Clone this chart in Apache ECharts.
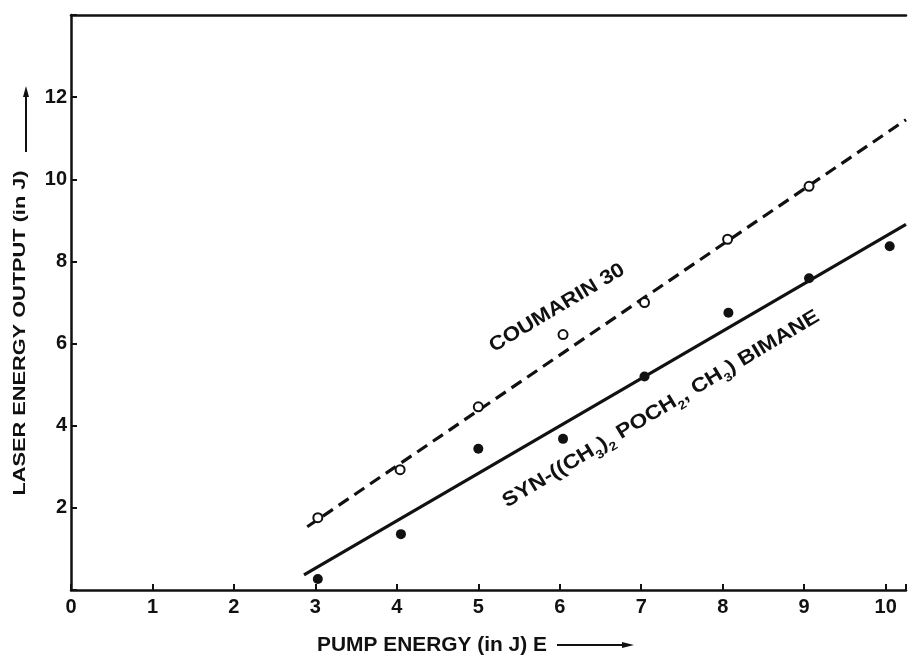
<!DOCTYPE html>
<html>
<head>
<meta charset="utf-8">
<script src="https://cdn.jsdelivr.net/npm/echarts@6/dist/echarts.min.js"></script>
<style>
  html, body { margin: 0; padding: 0; background: #fff; }
  #chart { width: 909px; height: 663px; }
</style>
</head>
<body>
<div id="chart"></div>
<script>
// measured points
var coumarinX = [3.03, 4.04, 5.0, 6.04, 7.04, 8.06, 9.06]
var coumarinY = [1.76, 2.93, 4.46, 6.22, 7.0, 8.54, 9.83]
var bimaneX = [3.03, 4.05, 5.0, 6.04, 7.04, 8.07, 9.06, 10.05]
var bimaneY = [0.27, 1.36, 3.44, 3.68, 5.2, 6.75, 7.59, 8.37]
// fitted lines (end points)
var coumarinFitX = [2.9, 10.25]
var coumarinFitY = [1.54, 11.45]
var bimaneFitX = [2.86, 10.25]
var bimaneFitY = [0.37, 8.9]

var xTicks = { min: 0, max: 10.25, step: 1 }
var yTicks = { min: 0, max: 14, step: 2 }

function pairs (xs, ys) {
  var out = []
  for (var i = 0; i < xs.length; i++) out.push([xs[i], ys[i]])
  return out
}

var FONT = '"Liberation Sans", Arial, Helvetica, sans-serif'
var INK = '#111'

var chart = echarts.init(document.getElementById('chart'))

var option = {
  backgroundColor: '#fff',
  animation: false,
  grid: { left: 71, right: 0, top: 15, bottom: 73 },
  xAxis: [{
    type: 'value',
    min: xTicks.min,
    max: xTicks.max,
    interval: xTicks.step,
    splitLine: { show: false },
    axisLine: { lineStyle: { color: INK, width: 2.5 } },
    axisTick: { inside: true, length: 6, lineStyle: { color: INK, width: 2 } },
    axisLabel: {
      color: INK, fontFamily: FONT, fontSize: 20, fontWeight: 'bold', margin: 7,
      formatter: function (v) { return Number.isInteger(v) ? String(v) : '' }
    }
  }, {
    type: 'value',
    position: 'top',
    min: xTicks.min,
    max: xTicks.max,
    splitLine: { show: false },
    axisLine: { lineStyle: { color: INK, width: 2.5 } },
    axisTick: { show: false },
    axisLabel: { show: false }
  }],
  yAxis: {
    type: 'value',
    min: yTicks.min,
    max: yTicks.max,
    interval: yTicks.step,
    splitLine: { show: false },
    axisLine: { lineStyle: { color: INK, width: 2.5 } },
    axisTick: { inside: true, length: 6, lineStyle: { color: INK, width: 2 } },
    axisLabel: {
      color: INK, fontFamily: FONT, fontSize: 20, fontWeight: 'bold', margin: 4,
      formatter: function (v) { return (v === 0 || v === 14) ? '' : String(v) }
    }
  },
  series: [{
    type: 'line',
    name: 'coumarin fit',
    data: pairs(coumarinFitX, coumarinFitY),
    showSymbol: false,
    symbol: 'none',
    lineStyle: { color: INK, width: 3.2, type: [12, 7] },
    z: 2
  }, {
    type: 'line',
    name: 'bimane fit',
    data: pairs(bimaneFitX, bimaneFitY),
    showSymbol: false,
    symbol: 'none',
    lineStyle: { color: INK, width: 3.2 },
    z: 2
  }, {
    type: 'scatter',
    name: 'COUMARIN 30',
    data: pairs(coumarinX, coumarinY),
    symbol: 'circle',
    symbolSize: 9,
    itemStyle: { color: '#fff', borderColor: INK, borderWidth: 2, opacity: 1 },
    z: 3
  }, {
    type: 'scatter',
    name: 'BIMANE',
    data: pairs(bimaneX, bimaneY),
    symbol: 'circle',
    symbolSize: 10,
    itemStyle: { color: INK, opacity: 1 },
    z: 3
  }],
  graphic: [{
    // y axis name
    type: 'text',
    x: 20,
    y: 333,
    rotation: Math.PI / 2,
    scaleX: 1.28,
    style: {
      text: 'LASER ENERGY OUTPUT (in J)',
      font: 'bold 17px ' + FONT,
      fill: INK,
      textAlign: 'center',
      textVerticalAlign: 'middle'
    }
  }, {
    type: 'line',
    shape: { x1: 26, y1: 152, x2: 26, y2: 94 },
    style: { stroke: INK, lineWidth: 2 }
  }, {
    type: 'polygon',
    shape: { points: [[26, 86], [23, 97], [29, 97]] },
    style: { fill: INK }
  }, {
    // x axis name
    type: 'text',
    x: 317,
    y: 645,
    scaleX: 1.045,
    style: {
      text: 'PUMP ENERGY (in J) E',
      font: 'bold 20px ' + FONT,
      fill: INK,
      textAlign: 'left',
      textVerticalAlign: 'middle'
    }
  }, {
    type: 'line',
    shape: { x1: 557, y1: 645, x2: 625, y2: 645 },
    style: { stroke: INK, lineWidth: 2 }
  }, {
    type: 'polygon',
    shape: { points: [[634, 645], [622, 642], [622, 648]] },
    style: { fill: INK }
  }, {
    type: 'text',
    x: 557,
    y: 308,
    rotation: 0.54,
    scaleX: 1.12,
    style: {
      text: 'COUMARIN 30',
      font: 'bold 20px ' + FONT,
      fill: INK,
      textAlign: 'center',
      textVerticalAlign: 'middle'
    }
  }, {
    type: 'text',
    x: 661,
    y: 409,
    rotation: 0.54,
    scaleX: 1.15,
    style: {
      text: '{a|SYN-((CH}{s|3}{a|)}{s|2}{a| POCH}{s|2}{a|, CH}{s|3}{a|) BIMANE}',
      fill: INK,
      textAlign: 'center',
      textVerticalAlign: 'middle',
      rich: {
        a: { fontFamily: FONT, fontSize: 20, fontWeight: 'bold', lineHeight: 20, verticalAlign: 'top', fill: INK },
        s: { fontFamily: FONT, fontSize: 12, fontWeight: 'bold', lineHeight: 12, padding: [12, 0, 0, 0], verticalAlign: 'top', fill: INK }
      }
    }
  }]
}

chart.setOption(option)
</script>
</body>
</html>
